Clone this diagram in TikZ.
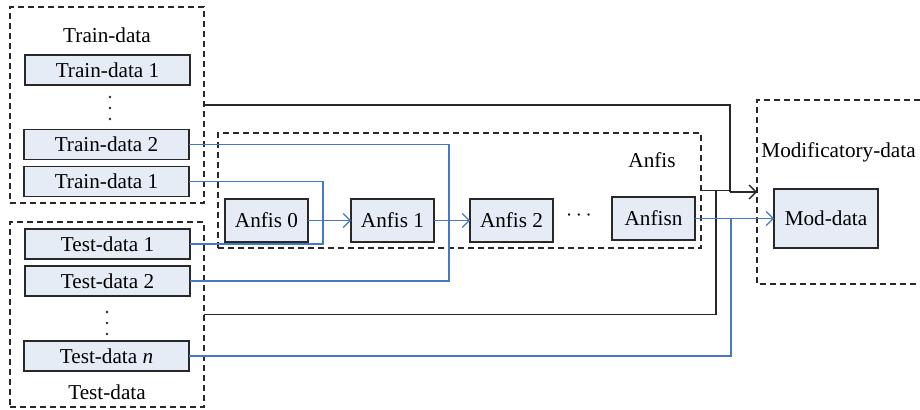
\documentclass[tikz,border=0pt]{standalone}
\usepackage{fontspec}
\setmainfont{Liberation Serif}
\usetikzlibrary{arrows.meta}
\definecolor{boxfill}{RGB}{230,236,246}
\definecolor{boxline}{RGB}{40,40,40}
\definecolor{flowblue}{RGB}{70,120,196}
\begin{document}
\begin{tikzpicture}[x=0.5pt,y=-0.5pt,
  font=\fontsize{10.6pt}{12pt}\selectfont,
  databox/.style={draw=boxline, line width=0.6pt, fill=boxfill, outer sep=0pt,
    inner sep=0pt, minimum width=82.5pt, minimum height=15pt},
  anfisbox/.style={databox, minimum width=41.5pt, minimum height=21.5pt},
  group/.style={draw=boxline, line width=0.6pt, dash pattern=on 3pt off 2pt,
    outer sep=0pt, inner sep=0pt},
  blk/.style={draw=boxline, line width=0.65pt},
  blu/.style={draw=flowblue, line width=0.6pt},
  dot/.style={fill=boxline, circle, inner sep=0pt, minimum size=1.3pt},
  tip/.style={-{Straight Barb[length=3.5pt,width=7pt]}}]
\useasboundingbox (0,0) rectangle (920,410);

% dashed groups
\node[group, minimum width=97pt, minimum height=98pt] (trainbox) at (107,105) {};
\node[group, minimum width=97pt, minimum height=92.5pt] (testbox) at (107,314.5) {};
\node[group, minimum width=241.5pt, minimum height=57.5pt] (anfisgrp) at (459.5,190.5) {};
\draw[group] (920,100) -| (757,284) -- (920,284);
\coordinate (modin) at (757,192);

% group labels
\node (trainlbl) at (107,35) {Train-data};
\node (testlbl) at (107,392) {Test-data};
\node (anfislbl) at (652,160) {Anfis};
\node[anchor=west, inner sep=0pt] (modlbl) at (761,152) {Modificatory-data};

% data boxes
\node[databox] (trA) at (107.5,70) {Train-data 1};
\node[dot] (trd1) at (110,97) {};
\node[dot] (trd2) at (110,108) {};
\node[dot] (trd3) at (110,119) {};
\node[databox] (trB) at (106.5,144.5) {Train-data 2};
\node[databox] (trC) at (106.5,181.5) {Train-data 1};
\node[databox] (te1) at (107.5,244) {Test-data 1};
\node[databox] (te2) at (107.5,281) {Test-data 2};
\node[dot] (ted1) at (107,312) {};
\node[dot] (ted2) at (107,323) {};
\node[dot] (ted3) at (107,334) {};
\node[databox] (teN) at (106.5,356) {Test-data \textit{n}};

% anfis chain
\node[anfisbox] (a0) at (266.5,220.5) {Anfis 0};
\node[anfisbox] (a1) at (392.5,220.5) {Anfis 1};
\node[anfisbox] (a2) at (511.5,220.5) {Anfis 2};
\node (adots) at (579,216) {$\cdots$};
\node[anfisbox] (an) at (653.5,218.5) {Anfisn};
\node[databox, minimum width=52pt, minimum height=29.5pt] (mod) at (826,218.5) {Mod-data};

% routing columns
\coordinate (k1) at (323,0);
\coordinate (k2) at (449,0);
\coordinate (k3) at (731,0);
\coordinate (kb) at (716,0);
\coordinate (jn) at (730,192);

% black connectors
\draw[blk] (trainbox.east) -| (jn);
\draw[blk, tip] (jn) -- (modin);
\draw[blk] (anfisgrp.east) -- (anfisgrp.east -| jn);
\draw[blk] (testbox.east) -| (kb |- anfisgrp.east);

% blue connectors
\draw[blu] (trC.east) -| (k1 |- te1.east) -- (te1.east);
\draw[blu] (trB.east) -| (k2 |- te2.east) -- (te2.east);
\draw[blu, tip] (a0.east) -- (a1.west);
\draw[blu, tip] (a1.east) -- (a2.west);
\draw[blu, tip] (an.east) -- (mod.west);
\draw[blu] (teN.east) -| (k3 |- an.east);
\end{tikzpicture}
\end{document}
